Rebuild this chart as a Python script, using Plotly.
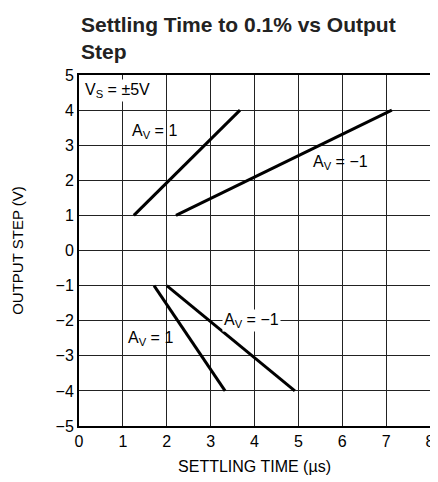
import plotly.graph_objects as go

# data
av1_pos_x = [1.25, 3.67]
av1_pos_y = [1, 4]
avm1_pos_x = [2.21, 7.13]
avm1_pos_y = [1, 4]
av1_neg_x = [1.71, 3.33]
av1_neg_y = [-1, -4]
avm1_neg_x = [2.0, 4.92]
avm1_neg_y = [-1, -4]

x_ticks = [0, 1, 2, 3, 4, 5, 6, 7, 8]
y_ticks = [5, 4, 3, 2, 1, 0, -1, -2, -3, -4, -5]
y_tick_text = ["5", "4", "3", "2", "1", "0", "\u22121", "\u22122", "\u22123", "\u22124", "\u22125"]

FONT = "Liberation Sans Narrow, Liberation Sans, Arial"

fig = go.Figure()
for xs, ys in [(av1_pos_x, av1_pos_y), (avm1_pos_x, avm1_pos_y),
               (av1_neg_x, av1_neg_y), (avm1_neg_x, avm1_neg_y)]:
    fig.add_trace(go.Scatter(x=xs, y=ys, mode="lines",
                             line=dict(color="black", width=3),
                             showlegend=False, hoverinfo="skip"))

annots = [
    dict(x=0.1, y=4.55, text="V<sub>S</sub> = \u00b15V", xanchor="left", bgcolor="white"),
    dict(x=1.73, y=3.4, text="A<sub>V</sub> = 1", xanchor="center"),
    dict(x=5.95, y=2.5, text="A<sub>V</sub> = \u22121", xanchor="center"),
    dict(x=3.94, y=-2.0, text="A<sub>V</sub> = \u22121", xanchor="center", bgcolor="white"),
    dict(x=1.62, y=-2.5, text="A<sub>V</sub> = 1", xanchor="center"),
]
for a in annots:
    fig.add_annotation(x=a["x"], y=a["y"], text=a["text"], showarrow=False,
                       xanchor=a["xanchor"], yanchor="middle",
                       bgcolor=a.get("bgcolor", "rgba(0,0,0,0)"), borderpad=1,
                       font=dict(family=FONT, size=16, color="black"))

# title as annotation
fig.add_annotation(x=0, y=1, xref="paper", yref="paper", xanchor="left", yanchor="bottom",
                   yshift=10, showarrow=False, align="left",
                   text="<b>Settling Time to 0.1% vs Output<br>Step</b>",
                   font=dict(family=FONT, size=21, color="#222"))

fig.update_layout(
    width=430, height=474,
    margin=dict(l=71, r=8, t=67, b=56),
    paper_bgcolor="white", plot_bgcolor="white",
    font=dict(family=FONT, color="black"),
)
fig.update_xaxes(range=[0, 8], tickvals=x_ticks, showgrid=True, gridcolor="#222",
                 gridwidth=1, zeroline=False, showline=True, linecolor="black",
                 linewidth=2, mirror=True, ticks="", tickfont=dict(size=16),
                 automargin=False,
                 title=dict(text="SETTLING TIME (\u00b5s)", font=dict(size=16), standoff=12))
fig.update_yaxes(range=[-5, 5], tickvals=y_ticks, ticktext=y_tick_text, showgrid=True,
                 gridcolor="#222", gridwidth=1, zeroline=False, showline=True,
                 linecolor="black", linewidth=2, mirror=True, ticks="",
                 tickfont=dict(size=16), automargin=False,
                 title=dict(text="OUTPUT STEP (V)", font=dict(size=15), standoff=28))

fig.write_html("out.html")
